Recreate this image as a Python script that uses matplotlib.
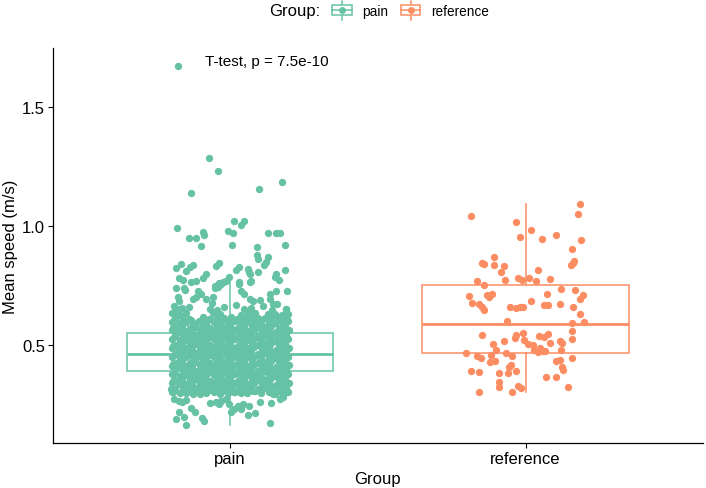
import numpy as np
import matplotlib
matplotlib.use('Agg')
import matplotlib.pyplot as plt
from matplotlib.lines import Line2D
from matplotlib.patches import Rectangle
from matplotlib.legend_handler import HandlerBase

plt.rcParams['font.family'] = ['Liberation Sans', 'DejaVu Sans']

groups = ['pain', 'reference']
colors = ['#66C2A5', '#FC8D62']

# box statistics
box_q1 = [0.388, 0.464]
box_med = [0.460, 0.587]
box_q3 = [0.550, 0.752]
box_lo = [0.163, 0.302]
box_hi = [0.790, 1.090]

# pain group: speed values and their horizontal jitter
pain_speed = [
    1.672, 1.283, 1.229, 1.136, 1.155, 1.182,
    0.992, 0.948, 0.950, 0.972, 0.962, 0.979, 0.969, 1.021, 1.003, 1.021, 0.969, 0.969, 0.969,
    0.916, 0.919, 0.912, 0.920, 0.877, 0.862, 0.867, 0.846, 0.835,
    0.821, 0.839, 0.825, 0.835, 0.811, 0.832, 0.842, 0.815, 0.825, 0.818, 0.804, 0.804, 0.814,
    0.797, 0.783, 0.773, 0.779, 0.773, 0.762, 0.769, 0.779, 0.797, 0.759, 0.762, 0.769, 0.762, 0.765,
    0.748, 0.755, 0.783, 0.797, 0.769, 0.755, 0.737,
    0.740, 0.731, 0.727, 0.713, 0.737, 0.741, 0.727, 0.713, 0.713, 0.727, 0.724,
    0.699, 0.685, 0.692, 0.699, 0.692, 0.699, 0.692, 0.685, 0.689, 0.692, 0.671,
    0.664, 0.650, 0.650, 0.660, 0.668, 0.662, 0.657, 0.670, 0.675,
    # dense core
    0.301, 0.296, 0.299, 0.294, 0.303, 0.297, 0.300, 0.293, 0.298, 0.302, 0.295, 0.299, 0.304, 0.296, 0.300, 0.294, 0.298, 0.302,
    0.314, 0.320, 0.313, 0.317, 0.321, 0.312, 0.318, 0.315, 0.319, 0.311, 0.317, 0.320, 0.314, 0.316, 0.321, 0.313, 0.318,
    0.338, 0.333, 0.336, 0.331, 0.340, 0.334, 0.337, 0.330, 0.335, 0.339, 0.332, 0.336, 0.341, 0.333, 0.337, 0.331, 0.335, 0.339,
    0.351, 0.357, 0.350, 0.354, 0.358, 0.349, 0.355, 0.352, 0.356, 0.348, 0.354, 0.357, 0.351, 0.353, 0.358, 0.350, 0.355,
    0.375, 0.370, 0.373, 0.368, 0.377, 0.371, 0.374, 0.367, 0.372, 0.376, 0.369, 0.373, 0.378, 0.370, 0.374, 0.368, 0.372, 0.376,
    0.388, 0.394, 0.387, 0.391, 0.395, 0.386, 0.392, 0.389, 0.393, 0.385, 0.391, 0.394, 0.388, 0.390, 0.395, 0.387, 0.392,
    0.412, 0.407, 0.410, 0.405, 0.414, 0.408, 0.411, 0.404, 0.409, 0.413, 0.406, 0.410, 0.415, 0.407, 0.411, 0.405, 0.409, 0.413,
    0.425, 0.431, 0.424, 0.428, 0.432, 0.423, 0.429, 0.426, 0.430, 0.422, 0.428, 0.431, 0.425, 0.427, 0.432, 0.424, 0.429,
    0.449, 0.444, 0.447, 0.442, 0.451, 0.445, 0.448, 0.441, 0.446, 0.450, 0.443, 0.447, 0.452, 0.444, 0.448, 0.442, 0.446, 0.450,
    0.462, 0.468, 0.461, 0.465, 0.469, 0.460, 0.466, 0.463, 0.467, 0.459, 0.465, 0.468, 0.462, 0.464, 0.469, 0.461, 0.466,
    0.486, 0.481, 0.484, 0.479, 0.488, 0.482, 0.485, 0.478, 0.483, 0.487, 0.480, 0.484, 0.489, 0.481, 0.485, 0.479, 0.483, 0.487,
    0.499, 0.505, 0.498, 0.502, 0.506, 0.497, 0.503, 0.500, 0.504, 0.496, 0.502, 0.505, 0.499, 0.501, 0.506, 0.498, 0.503,
    0.523, 0.518, 0.521, 0.516, 0.525, 0.519, 0.522, 0.515, 0.520, 0.524, 0.517, 0.521, 0.526, 0.518, 0.522, 0.516, 0.520, 0.524,
    0.536, 0.542, 0.535, 0.539, 0.543, 0.534, 0.540, 0.537, 0.541, 0.533, 0.539, 0.542, 0.536, 0.538, 0.543, 0.535, 0.540,
    0.560, 0.555, 0.558, 0.553, 0.562, 0.556, 0.559, 0.552, 0.557, 0.561, 0.554, 0.558, 0.563, 0.555, 0.559, 0.553, 0.557, 0.561,
    0.573, 0.579, 0.572, 0.576, 0.580, 0.571, 0.577, 0.574, 0.578, 0.570, 0.576, 0.579, 0.573, 0.575, 0.580, 0.572, 0.577,
    0.597, 0.592, 0.595, 0.590, 0.599, 0.593, 0.596, 0.589, 0.594, 0.598, 0.591, 0.595, 0.600, 0.592, 0.596, 0.590, 0.594, 0.598,
    0.610, 0.616, 0.609, 0.618, 0.608, 0.614, 0.611, 0.615, 0.607, 0.613, 0.616, 0.610, 0.612, 0.617, 0.609, 0.614,
    0.633, 0.628, 0.631, 0.632, 0.627, 0.626, 0.631, 0.634, 0.627, 0.629, 0.625, 0.630,
    0.646, 0.652, 0.650, 0.645, 0.649, 0.653, 0.647, 0.651,
    # more core points in between
    0.309, 0.305, 0.308, 0.304, 0.310, 0.306, 0.307, 0.303, 0.309, 0.306, 0.308, 0.304, 0.310, 0.306,
    0.346, 0.342, 0.345, 0.341, 0.347, 0.343, 0.344, 0.340, 0.346, 0.343, 0.345, 0.341, 0.347, 0.343,
    0.383, 0.379, 0.382, 0.378, 0.384, 0.380, 0.381, 0.377, 0.383, 0.380, 0.382, 0.378, 0.384, 0.380,
    0.420, 0.416, 0.419, 0.415, 0.421, 0.417, 0.418, 0.414, 0.420, 0.417, 0.419, 0.415, 0.421, 0.417,
    0.457, 0.453, 0.456, 0.452, 0.458, 0.454, 0.455, 0.451, 0.457, 0.454, 0.456, 0.452, 0.458, 0.454,
    0.494, 0.490, 0.493, 0.489, 0.495, 0.491, 0.492, 0.488, 0.494, 0.491, 0.493, 0.489, 0.495, 0.491,
    0.531, 0.527, 0.530, 0.526, 0.532, 0.528, 0.529, 0.525, 0.531, 0.528, 0.530, 0.526, 0.532, 0.528,
    0.568, 0.564, 0.567, 0.563, 0.569, 0.565, 0.566, 0.562, 0.568, 0.565, 0.567, 0.563, 0.569, 0.565,
    0.605, 0.601, 0.604, 0.600, 0.606, 0.602, 0.603, 0.599, 0.605, 0.602, 0.604, 0.600, 0.606, 0.602,
    # sparse low values
    0.314, 0.300, 0.272, 0.265, 0.269, 0.260, 0.300, 0.293, 0.254, 0.258, 0.251, 0.265, 0.272, 0.251, 0.244, 0.251,
    0.244, 0.258, 0.255, 0.272, 0.279, 0.293, 0.300,
    0.218, 0.188, 0.195, 0.163, 0.233, 0.218, 0.191, 0.180, 0.216, 0.230, 0.244, 0.230, 0.205, 0.212, 0.171,
]
pain_jitter = [
    -0.177, -0.072, -0.041, -0.133, 0.097, 0.175,
    -0.180, -0.138, -0.115, -0.092, -0.087, -0.007, 0.010, 0.014, 0.038, 0.049, 0.128, 0.156, 0.168,
    -0.098, 0.007, 0.092, 0.185, 0.092, 0.094, 0.129, 0.123, 0.115,
    -0.182, -0.165, -0.137, -0.126, -0.148, -0.047, -0.036, 0.021, 0.029, 0.060, 0.064, 0.094, 0.187,
    0.156, 0.151, 0.165, -0.171, -0.160, -0.131, -0.114, -0.092, -0.081, -0.036, -0.024, -0.013, 0.030, 0.066,
    -0.052, -0.030, -0.004, 0.066, 0.072, 0.032, -0.154,
    -0.182, -0.152, -0.109, -0.098, -0.052, -0.041, 0.038, 0.049, 0.134, 0.156, 0.194,
    -0.177, -0.171, -0.126, -0.114, -0.081, -0.058, 0.066, 0.077, 0.100, 0.134, 0.145,
    -0.188, -0.177, 0.190, -0.140, 0.020, 0.110, -0.020, 0.160, -0.060,
    # dense core
    -0.196, -0.170, -0.150, -0.124, -0.104, -0.080, -0.054, -0.034, -0.008, 0.013, 0.038, 0.058, 0.084, 0.106, 0.131, 0.152, 0.177, 0.196,
    -0.186, -0.160, -0.139, -0.113, -0.092, -0.067, -0.046, -0.020, 0.003, 0.024, 0.050, 0.071, 0.096, 0.117, 0.142, 0.164, 0.189,
    -0.197, -0.173, -0.148, -0.127, -0.102, -0.078, -0.057, -0.032, -0.011, 0.015, 0.036, 0.061, 0.082, 0.108, 0.129, 0.154, 0.175, 0.198,
    -0.184, -0.162, -0.137, -0.115, -0.090, -0.069, -0.044, -0.022, 0.001, 0.026, 0.048, 0.073, 0.094, 0.119, 0.140, 0.166, 0.187,
    -0.196, -0.170, -0.150, -0.124, -0.104, -0.080, -0.054, -0.034, -0.008, 0.013, 0.038, 0.058, 0.084, 0.106, 0.131, 0.152, 0.177, 0.196,
    -0.186, -0.160, -0.139, -0.113, -0.092, -0.067, -0.046, -0.020, 0.003, 0.024, 0.050, 0.071, 0.096, 0.117, 0.142, 0.164, 0.189,
    -0.197, -0.173, -0.148, -0.127, -0.102, -0.078, -0.057, -0.032, -0.011, 0.015, 0.036, 0.061, 0.082, 0.108, 0.129, 0.154, 0.175, 0.198,
    -0.184, -0.162, -0.137, -0.115, -0.090, -0.069, -0.044, -0.022, 0.001, 0.026, 0.048, 0.073, 0.094, 0.119, 0.140, 0.166, 0.187,
    -0.196, -0.170, -0.150, -0.124, -0.104, -0.080, -0.054, -0.034, -0.008, 0.013, 0.038, 0.058, 0.084, 0.106, 0.131, 0.152, 0.177, 0.196,
    -0.186, -0.160, -0.139, -0.113, -0.092, -0.067, -0.046, -0.020, 0.003, 0.024, 0.050, 0.071, 0.096, 0.117, 0.142, 0.164, 0.189,
    -0.197, -0.173, -0.148, -0.127, -0.102, -0.078, -0.057, -0.032, -0.011, 0.015, 0.036, 0.061, 0.082, 0.108, 0.129, 0.154, 0.175, 0.198,
    -0.184, -0.162, -0.137, -0.115, -0.090, -0.069, -0.044, -0.022, 0.001, 0.026, 0.048, 0.073, 0.094, 0.119, 0.140, 0.166, 0.187,
    -0.196, -0.170, -0.150, -0.124, -0.104, -0.080, -0.054, -0.034, -0.008, 0.013, 0.038, 0.058, 0.084, 0.106, 0.131, 0.152, 0.177, 0.196,
    -0.186, -0.160, -0.139, -0.113, -0.092, -0.067, -0.046, -0.020, 0.003, 0.024, 0.050, 0.071, 0.096, 0.117, 0.142, 0.164, 0.189,
    -0.197, -0.173, -0.148, -0.127, -0.102, -0.078, -0.057, -0.032, -0.011, 0.015, 0.036, 0.061, 0.082, 0.108, 0.129, 0.154, 0.175, 0.198,
    -0.184, -0.162, -0.137, -0.115, -0.090, -0.069, -0.044, -0.022, 0.001, 0.026, 0.048, 0.073, 0.094, 0.119, 0.140, 0.166, 0.187,
    -0.196, -0.170, -0.150, -0.124, -0.104, -0.080, -0.054, -0.034, -0.008, 0.013, 0.038, 0.058, 0.084, 0.106, 0.131, 0.152, 0.177, 0.196,
    -0.185, -0.161, -0.138, -0.091, -0.068, -0.045, -0.021, 0.002, 0.025, 0.049, 0.072, 0.095, 0.118, 0.141, 0.165, 0.188,
    -0.196, -0.172, -0.149, -0.056, -0.033, 0.037, 0.060, 0.083, 0.130, 0.153, 0.176, 0.197,
    -0.185, -0.161, -0.068, -0.045, 0.049, 0.072, 0.141, 0.188,
    # more core points in between
    -0.190, -0.160, -0.131, -0.100, -0.070, -0.040, -0.012, 0.018, 0.047, 0.077, 0.106, 0.136, 0.165, 0.193,
    -0.193, -0.163, -0.128, -0.097, -0.073, -0.043, -0.009, 0.021, 0.044, 0.074, 0.109, 0.133, 0.168, 0.190,
    -0.190, -0.160, -0.131, -0.100, -0.070, -0.040, -0.012, 0.018, 0.047, 0.077, 0.106, 0.136, 0.165, 0.193,
    -0.193, -0.163, -0.128, -0.097, -0.073, -0.043, -0.009, 0.021, 0.044, 0.074, 0.109, 0.133, 0.168, 0.190,
    -0.190, -0.160, -0.131, -0.100, -0.070, -0.040, -0.012, 0.018, 0.047, 0.077, 0.106, 0.136, 0.165, 0.193,
    -0.193, -0.163, -0.128, -0.097, -0.073, -0.043, -0.009, 0.021, 0.044, 0.074, 0.109, 0.133, 0.168, 0.190,
    -0.190, -0.160, -0.131, -0.100, -0.070, -0.040, -0.012, 0.018, 0.047, 0.077, 0.106, 0.136, 0.165, 0.193,
    -0.193, -0.163, -0.128, -0.097, -0.073, -0.043, -0.009, 0.021, 0.044, 0.074, 0.109, 0.133, 0.168, 0.190,
    -0.190, -0.160, -0.131, -0.100, -0.070, -0.040, -0.012, 0.018, 0.047, 0.077, 0.106, 0.136, 0.165, 0.193,
    # sparse low values
    -0.199, -0.194, -0.188, -0.171, -0.148, -0.162, -0.120, -0.103, -0.069, -0.047, -0.036, -0.030, -0.013, -0.002, 0.026, 0.043,
    0.064, 0.100, 0.140, 0.168, 0.179, 0.145, 0.190,
    -0.171, -0.182, -0.157, -0.148, -0.131, -0.120, -0.096, -0.087, 0.004, 0.015, 0.030, 0.038, 0.060, 0.083, 0.134,
]

# reference group
ref_speed = [
    1.091, 1.048, 1.040, 1.014, 0.981, 0.951, 0.943, 0.961, 0.941, 0.901,
    0.852, 0.843, 0.836, 0.868, 0.845, 0.841, 0.836, 0.832, 0.807, 0.815,
    0.772, 0.779, 0.773, 0.782, 0.768, 0.776, 0.768, 0.752, 0.734, 0.729,
    0.710, 0.691, 0.705, 0.677, 0.709, 0.700, 0.713, 0.671, 0.657, 0.647,
    0.657, 0.656, 0.657, 0.660, 0.682, 0.667, 0.667, 0.712, 0.670, 0.658,
    0.629, 0.590, 0.594, 0.598, 0.542, 0.542, 0.528, 0.547, 0.520, 0.538,
    0.533, 0.545, 0.559, 0.523, 0.514, 0.503, 0.478, 0.456, 0.503, 0.499,
    0.476, 0.468, 0.488, 0.475, 0.472, 0.507, 0.515, 0.507, 0.479, 0.444,
    0.464, 0.452, 0.445, 0.431, 0.429, 0.467, 0.454, 0.415, 0.405, 0.391,
    0.390, 0.386, 0.381, 0.381, 0.342, 0.324, 0.301, 0.301, 0.328, 0.317,
    0.363, 0.365, 0.324, 0.433, 0.434, 0.407, 0.395,
]
ref_jitter = [
    0.184, 0.177, -0.184, -0.034, 0.020, -0.018, 0.057, 0.104, 0.186, 0.157,
    0.163, 0.159, 0.154, -0.107, -0.146, -0.142, -0.107, -0.072, -0.083, 0.041,
    -0.069, -0.025, -0.011, 0.011, 0.037, 0.084, -0.163, -0.139, 0.120, 0.167,
    0.195, 0.183, -0.191, -0.182, -0.129, -0.124, -0.114, -0.158, -0.149, -0.140,
    -0.054, -0.033, -0.018, -0.010, 0.018, 0.061, 0.077, 0.071, 0.115, 0.160,
    0.183, 0.158, 0.199, -0.063, -0.148, -0.034, -0.036, -0.008, -0.004, 0.044,
    0.063, 0.077, 0.156, 0.157, -0.072, -0.111, -0.100, -0.117, 0.007, 0.024,
    0.029, 0.041, 0.048, 0.058, 0.066, 0.084, 0.116, 0.122, 0.119, 0.158,
    -0.200, -0.164, -0.151, -0.103, -0.120, -0.066, -0.046, -0.049, -0.055, -0.033,
    -0.183, -0.157, -0.090, -0.061, -0.090, -0.089, -0.159, -0.047, -0.026, -0.016,
    0.068, 0.102, 0.145, 0.103, 0.116, 0.123, 0.125,
]


class BoxKey(HandlerBase):
    # little boxplot glyph with a dot, like the ggplot legend key
    def create_artists(self, legend, orig_handle, xdescent, ydescent,
                       width, height, fontsize, trans):
        c = orig_handle.get_color()
        x0, y0 = -xdescent, -ydescent
        whisk = Line2D([x0 + width / 2] * 2, [y0 - 0.4 * height, y0 + 1.4 * height],
                       color=c, lw=1.1, transform=trans)
        box = Rectangle((x0, y0), width, height, facecolor='white',
                        edgecolor=c, lw=1.1, transform=trans)
        med = Line2D([x0, x0 + width], [y0 + height / 2] * 2, color=c, lw=1.1,
                     transform=trans)
        dot = Line2D([x0 + width / 2], [y0 + height / 2], marker='o', ms=5,
                     mew=0, ls='none', color=c, transform=trans)
        return [whisk, box, med, dot]


fig = plt.figure(figsize=(7.06, 4.89), dpi=100)
ax = fig.add_axes([0.0746, 0.092, 0.921, 0.808])

stats = []
for i in range(2):
    stats.append({'med': box_med[i], 'q1': box_q1[i], 'q3': box_q3[i],
                  'whislo': box_lo[i], 'whishi': box_hi[i], 'fliers': []})

bp = ax.bxp(stats, positions=[1, 2], widths=0.7, showcaps=False,
            showfliers=False, patch_artist=True, zorder=1)
for i, c in enumerate(colors):
    bp['boxes'][i].set(facecolor='white', edgecolor=c, linewidth=1.1)
    bp['medians'][i].set(color=c, linewidth=2.0)
    for w in bp['whiskers'][2 * i:2 * i + 2]:
        w.set(color=c, linewidth=1.1)

ax.scatter(1 + np.array(pain_jitter), pain_speed, s=28, color=colors[0],
           linewidths=0, zorder=3)
ax.scatter(2 + np.array(ref_jitter), ref_speed, s=28, color=colors[1],
           linewidths=0, zorder=3)

ax.text(0.916, 1.692, 'T-test, p = 7.5e-10', fontsize=11, ha='left', va='center')

ax.set_xlim(0.4, 2.6)
ax.set_ylim(0.087, 1.7466)
ax.set_xticks([1, 2])
ax.set_xticklabels(groups)
ax.set_yticks([0.5, 1.0, 1.5])
ax.set_yticklabels(['0.5', '1.0', '1.5'])
ax.tick_params(length=3.5, width=0.8, labelsize=12, pad=2, color='black')
ax.set_xlabel('Group', fontsize=12, labelpad=4)
ax.set_ylabel('Mean speed (m/s)', fontsize=12, labelpad=3)
for s in ['top', 'right']:
    ax.spines[s].set_visible(False)
for s in ['left', 'bottom']:
    ax.spines[s].set_linewidth(0.9)
    ax.spines[s].set_color('black')

handles = [Line2D([], [], color=c) for c in colors]
fig.text(269 / 706, 0.9755, 'Group:', fontsize=12, ha='left', va='center')
fig.legend(handles, groups, handler_map={Line2D: BoxKey()}, loc='center left',
           bbox_to_anchor=(0.470, 0.9755), ncol=2, frameon=False, fontsize=9.8,
           handlelength=1.45, handleheight=0.8, handletextpad=0.8,
           columnspacing=0.9, borderpad=0, borderaxespad=0)

fig.savefig('out.png', dpi=100)
